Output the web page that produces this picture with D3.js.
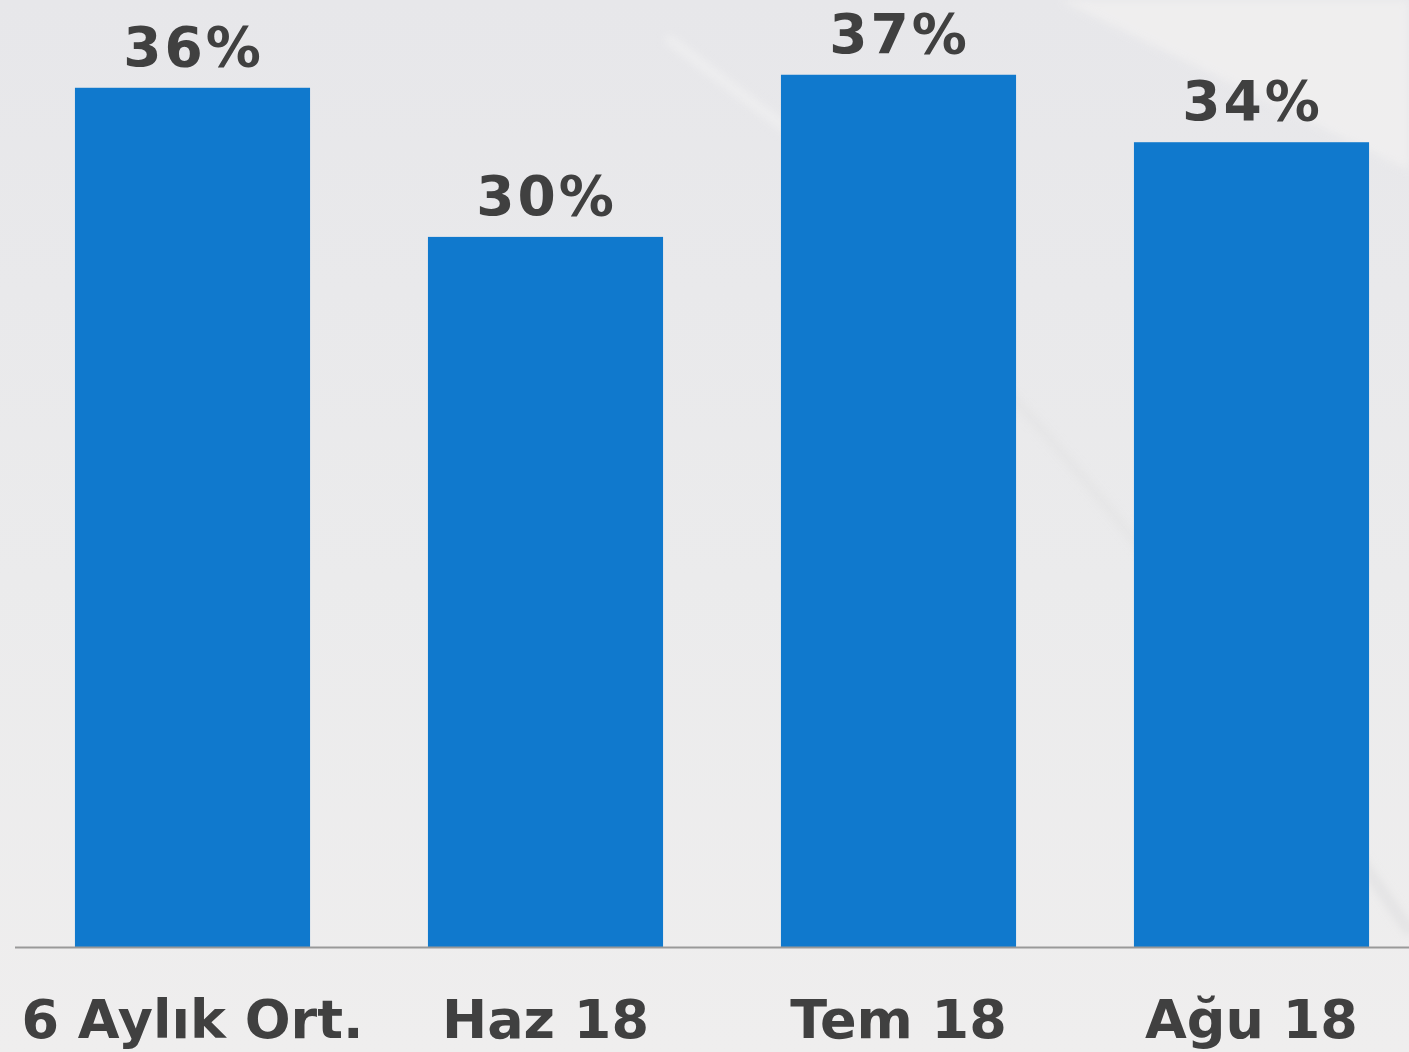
<!DOCTYPE html>
<html>
<head>
<meta charset="utf-8">
<script src="https://cdn.jsdelivr.net/npm/d3@7"></script>
<style>
  html, body { margin: 0; padding: 0; }
  body { width: 1409px; height: 1052px; overflow: hidden; }
</style>
</head>
<body>
<div id="chart"></div>
<script>
// Data
const categories = ["6 Aylık Ort.", "Haz 18", "Tem 18", "Ağu 18"];
const values = [36.3, 30.0, 36.85, 34.0];

// Dimensions
const width = 1409;
const height = 1052;
const baseY = 947;

const svg = d3.select("#chart")
  .append("svg")
  .attr("width", width)
  .attr("height", height);

// Background gradient + faint diagonal streaks
const defs = svg.append("defs");
const bg = defs.append("linearGradient")
  .attr("id", "bg")
  .attr("x1", 0).attr("y1", 0).attr("x2", 0).attr("y2", 1);
bg.append("stop").attr("offset", "0%").attr("stop-color", "#e7e7ea");
bg.append("stop").attr("offset", "55%").attr("stop-color", "#ebebec");
bg.append("stop").attr("offset", "100%").attr("stop-color", "#efeeee");

defs.append("filter")
  .attr("id", "soft")
  .append("feGaussianBlur")
  .attr("stdDeviation", 4);

svg.append("rect")
  .attr("width", width)
  .attr("height", height)
  .attr("fill", "url(#bg)");

svg.append("path")
  .attr("d", "M1060,0 L1409,0 L1409,170 Z")
  .attr("fill", "#f1f0f0")
  .attr("opacity", 0.8)
  .attr("filter", "url(#soft)");

const streak = svg.append("g")
  .attr("fill", "none")
  .attr("stroke-linecap", "round")
  .attr("filter", "url(#soft)");
streak.append("path")
  .attr("d", "M670,40 C760,110 860,180 1000,300")
  .attr("stroke", "#f6f6f6").attr("stroke-width", 10).attr("opacity", 0.5);
streak.append("path")
  .attr("d", "M880,260 C960,340 1040,420 1150,560")
  .attr("stroke", "#dedede").attr("stroke-width", 8).attr("opacity", 0.4);
streak.append("path")
  .attr("d", "M1360,860 L1409,930")
  .attr("stroke", "#dcdcde").attr("stroke-width", 10).attr("opacity", 0.6);

// Scales
const x = d3.scaleBand()
  .domain(categories)
  .range([16, 1428])
  .paddingInner(0.334)
  .paddingOuter(0.167);

const y = d3.scaleLinear()
  .domain([0, 40])
  .range([baseY, baseY - 40 * 23.67]);

// Bars
svg.append("g")
  .selectAll("rect")
  .data(values)
  .join("rect")
  .attr("x", (d, i) => x(categories[i]))
  .attr("y", d => y(d))
  .attr("width", x.bandwidth())
  .attr("height", d => y(0) - y(d))
  .attr("fill", "#1079cd");

// Value labels
svg.append("g")
  .selectAll("text")
  .data(values)
  .join("text")
  .attr("x", (d, i) => x(categories[i]) + x.bandwidth() / 2 + 1)
  .attr("y", d => y(d) - 22)
  .attr("text-anchor", "middle")
  .style("font-family", "'DejaVu Sans', sans-serif")
  .style("font-weight", "bold")
  .style("font-size", "55px")
  .style("letter-spacing", "3px")
  .style("fill", "#404040")
  .text(d => Math.round(d) + "%");

// Baseline
svg.append("line")
  .attr("x1", 15)
  .attr("x2", width)
  .attr("y1", baseY + 0.5)
  .attr("y2", baseY + 0.5)
  .attr("stroke", "#999999")
  .attr("stroke-width", 2);

// Category labels
svg.append("g")
  .selectAll("text")
  .data(categories)
  .join("text")
  .attr("x", d => x(d) + x.bandwidth() / 2)
  .attr("y", 1038)
  .attr("text-anchor", "middle")
  .style("font-family", "'DejaVu Sans', sans-serif")
  .style("font-weight", "bold")
  .style("font-size", "54px")
  .style("fill", "#404040")
  .text(d => d);
</script>
</body>
</html>
